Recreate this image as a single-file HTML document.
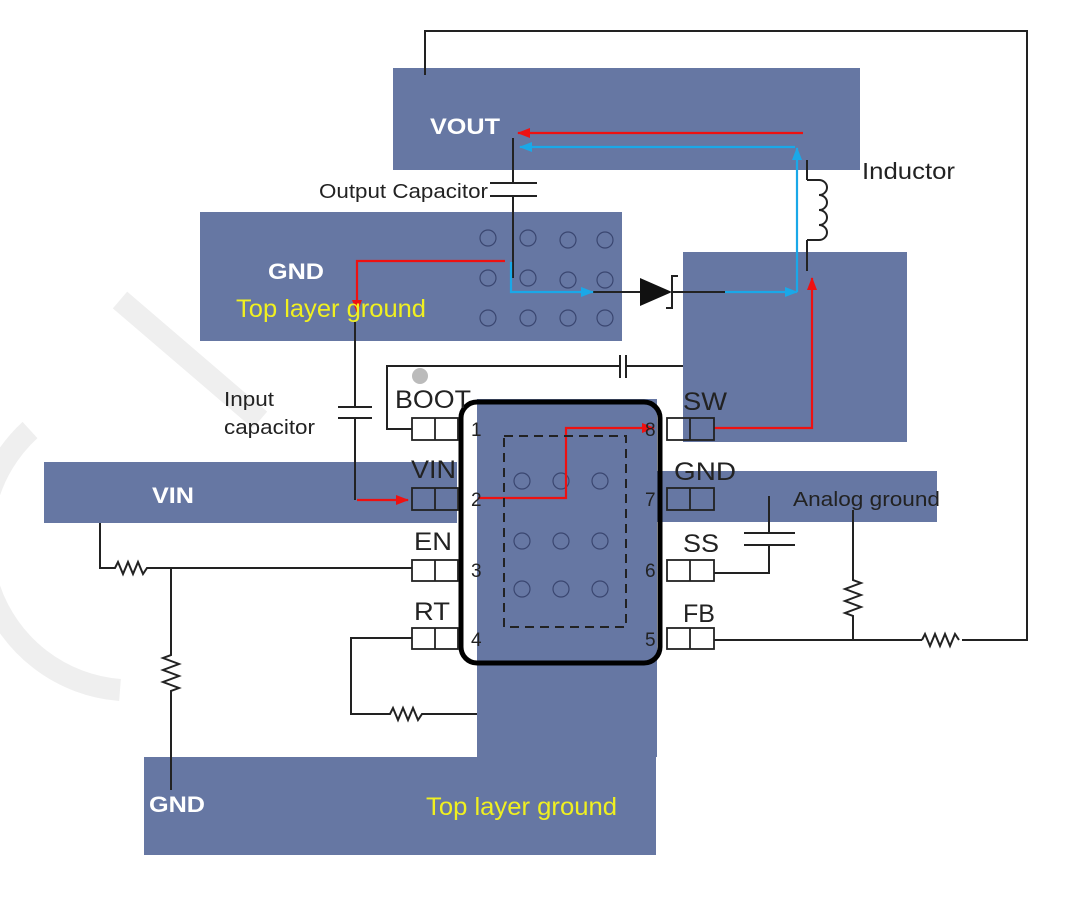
<!DOCTYPE html>
<html><head><meta charset="utf-8"><style>
html,body{margin:0;padding:0;background:#fff;}
svg{display:block;font-family:"Liberation Sans",sans-serif;}
</style></head><body>
<svg width="1080" height="897" viewBox="0 0 1080 897" xmlns="http://www.w3.org/2000/svg">
<defs>
<marker id="ar" markerWidth="13" markerHeight="10" refX="12" refY="5" orient="auto" markerUnits="userSpaceOnUse"><path d="M0,0 L13,5 L0,10 z" fill="#ee1111"/></marker>
<marker id="ab" markerWidth="13" markerHeight="10" refX="12" refY="5" orient="auto" markerUnits="userSpaceOnUse"><path d="M0,0 L13,5 L0,10 z" fill="#1aa8e8"/></marker>
</defs>
<g stroke="#efefef" stroke-width="22" fill="none">
<path d="M30,430 A150,150 0 0 0 120,690"/>
<path d="M120,300 L260,420"/>
</g>
<g fill="#6677a3">
<rect x="393" y="68" width="467" height="102"/>
<rect x="200" y="212" width="422" height="129"/>
<rect x="683" y="252" width="224" height="190"/>
<rect x="44" y="462" width="413" height="61"/>
<rect x="655" y="471" width="282" height="51"/>
<rect x="477" y="399" width="180" height="358"/>
<rect x="144" y="757" width="512" height="98"/>
</g>
<g fill="none" stroke="#3a4670" stroke-width="1.2">
<circle cx="488" cy="238" r="8"/><circle cx="528" cy="238" r="8"/><circle cx="568" cy="240" r="8"/><circle cx="605" cy="240" r="8"/>
<circle cx="488" cy="278" r="8"/><circle cx="528" cy="278" r="8"/><circle cx="568" cy="280" r="8"/><circle cx="605" cy="280" r="8"/>
<circle cx="488" cy="318" r="8"/><circle cx="528" cy="318" r="8"/><circle cx="568" cy="318" r="8"/><circle cx="605" cy="318" r="8"/>
<circle cx="522" cy="481" r="8"/><circle cx="561" cy="481" r="8"/><circle cx="600" cy="481" r="8"/>
<circle cx="522" cy="541" r="8"/><circle cx="561" cy="541" r="8"/><circle cx="600" cy="541" r="8"/>
<circle cx="522" cy="589" r="8"/><circle cx="561" cy="589" r="8"/><circle cx="600" cy="589" r="8"/>
</g>
<g fill="none" stroke="#222" stroke-width="2">
<path d="M425,75 V31 H1027 V640 H962"/>
<path d="M922,640 H714"/>
<path d="M922,640 l3,-6 l5,12 l5,-12 l5,12 l5,-12 l5,12 l5,-12 l4,6"/>
<path d="M853,640 V616 l-8,-3 l16,-6 l-16,-6 l16,-6 l-16,-6 l16,-6 l-8,-3 V510"/>
<path d="M513,138 V183 M490,183 H537 M490,196 H537 M513,196 V278"/>
<path d="M355,322 V407 M338,407 H372 M338,418 H372 M355,418 V500"/>
<path d="M412,429 H387 V366 H620 M620,355 V378 M626,355 V378 M626,366 H683"/>
<path d="M100,523 V568 H115 l3,-6 l5,12 l5,-12 l5,12 l5,-12 l5,12 l4,-6 H412"/>
<path d="M171,568 V655 l-8,3 l16,6 l-16,6 l16,6 l-16,6 l16,6 l-8,3 V790"/>
<path d="M412,638 H351 V714 H390 l3,-6 l5,12 l5,-12 l5,12 l5,-12 l5,12 l4,-6 H477"/>
<path d="M714,573 H769 V545 M744,545 H795 M744,533 H795 M769,533 V496"/>
<path d="M807,160 V180 M807,240 V271"/>
<path d="M807,180 h12 a8,7.5 0 0 1 0,15 a8,7.5 0 0 1 0,15 a8,7.5 0 0 1 0,15 a8,7.5 0 0 1 0,15 h-12"/>
<path d="M593,292 H640 M672,292 H725"/>
<path d="M678,276 h-6 V308 h-6"/>
</g>
<path d="M640,278 L672,292 L640,306 z" fill="#111"/>
<g fill="none" stroke="#1aa8e8" stroke-width="2.2">
<path d="M511,262 V292 H593" marker-end="url(#ab)"/>
<path d="M725,292 H797" marker-end="url(#ab)"/>
<path d="M797,292 V148" marker-end="url(#ab)"/>
<path d="M795,147 H520" marker-end="url(#ab)"/>
</g>
<g fill="none" stroke="#ee1111" stroke-width="2.2">
<path d="M803,133 H518" marker-end="url(#ar)"/>
<path d="M505,261 H357 V312" marker-end="url(#ar)"/>
<path d="M357,500 H408" marker-end="url(#ar)"/>
<path d="M714,428 H812 V278" marker-end="url(#ar)"/>
<path d="M478,498 H566 V428 H654" marker-end="url(#ar)"/>
</g>
<rect x="504" y="436" width="122" height="191" fill="none" stroke="#222" stroke-width="2" stroke-dasharray="9,6"/>
<rect x="461" y="402" width="199" height="261" rx="16" fill="none" stroke="#000" stroke-width="5"/>
<circle cx="420" cy="376" r="8" fill="#bbb"/>
<g fill="none" stroke="#222" stroke-width="1.8">
<rect x="412" y="418" width="46" height="22"/><line x1="435" y1="418" x2="435" y2="440"/>
<rect x="412" y="488" width="46" height="22"/><line x1="435" y1="488" x2="435" y2="510"/>
<rect x="412" y="560" width="46" height="21"/><line x1="435" y1="560" x2="435" y2="581"/>
<rect x="412" y="628" width="46" height="21"/><line x1="435" y1="628" x2="435" y2="649"/>
<rect x="667" y="418" width="47" height="22"/><line x1="690" y1="418" x2="690" y2="440"/>
<rect x="667" y="488" width="47" height="22"/><line x1="690" y1="488" x2="690" y2="510"/>
<rect x="667" y="560" width="47" height="21"/><line x1="690" y1="560" x2="690" y2="581"/>
<rect x="667" y="628" width="47" height="21"/><line x1="690" y1="628" x2="690" y2="649"/>
</g>
<g fill="#222" font-size="19">
<text x="471" y="436">1</text><text x="471" y="506">2</text><text x="471" y="577">3</text><text x="471" y="646">4</text>
<text x="645" y="436">8</text><text x="645" y="506">7</text><text x="645" y="577">6</text><text x="645" y="646">5</text>
</g>
<g fill="#222" font-size="25" lengthAdjust="spacingAndGlyphs">
<text x="395" y="408" textLength="76" lengthAdjust="spacingAndGlyphs">BOOT</text>
<text x="411" y="478" textLength="45" lengthAdjust="spacingAndGlyphs">VIN</text>
<text x="414" y="550" textLength="38" lengthAdjust="spacingAndGlyphs">EN</text>
<text x="414" y="620" textLength="36" lengthAdjust="spacingAndGlyphs">RT</text>
<text x="683" y="410" textLength="44" lengthAdjust="spacingAndGlyphs">SW</text>
<text x="674" y="480" textLength="62" lengthAdjust="spacingAndGlyphs">GND</text>
<text x="683" y="552" textLength="36" lengthAdjust="spacingAndGlyphs">SS</text>
<text x="683" y="622" textLength="32" lengthAdjust="spacingAndGlyphs">FB</text>
</g>
<g fill="#fff" font-size="22" font-weight="bold">
<text x="430" y="134" textLength="70" lengthAdjust="spacingAndGlyphs">VOUT</text>
<text x="268" y="279" textLength="56" lengthAdjust="spacingAndGlyphs">GND</text>
<text x="152" y="503" textLength="42" lengthAdjust="spacingAndGlyphs">VIN</text>
<text x="149" y="812" textLength="56" lengthAdjust="spacingAndGlyphs">GND</text>
</g>
<g fill="#f0f020" font-size="25">
<text x="236" y="317" textLength="190" lengthAdjust="spacingAndGlyphs">Top layer ground</text>
<text x="426" y="815" textLength="191" lengthAdjust="spacingAndGlyphs">Top layer ground</text>
</g>
<g fill="#222" font-size="20">
<text x="319" y="198" textLength="169" lengthAdjust="spacingAndGlyphs">Output Capacitor</text>
<text x="862" y="179" font-size="23" textLength="93" lengthAdjust="spacingAndGlyphs">Inductor</text>
<text x="224" y="406" textLength="50" lengthAdjust="spacingAndGlyphs">Input</text>
<text x="224" y="434" textLength="91" lengthAdjust="spacingAndGlyphs">capacitor</text>
<text x="793" y="506" textLength="147" lengthAdjust="spacingAndGlyphs">Analog ground</text>
</g>
</svg>
</body></html>
